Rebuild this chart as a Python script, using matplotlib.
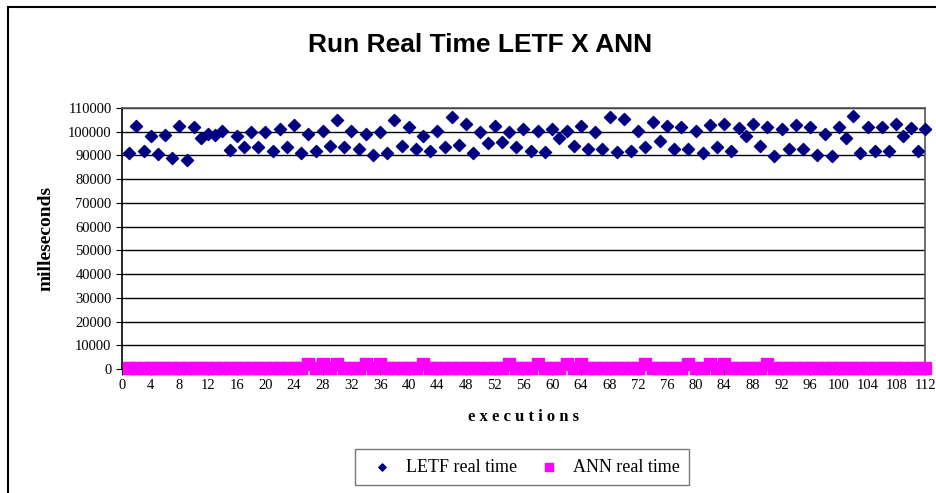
import numpy as np
import matplotlib
matplotlib.use('Agg')
import matplotlib.pyplot as plt
from matplotlib.patches import Rectangle

# LETF real time (ms), executions 1..112
letf = [91000, 102500, 91700, 98000, 90700, 98700, 88900, 102500, 88200, 102000,
        97300, 99000, 98700, 100500, 92400, 98000, 93500, 99900, 93400, 99900,
        91700, 101100, 93400, 102700, 91000, 99000, 91700, 100500, 93800, 104800,
        93400, 100400, 92700, 99000, 90300, 99900, 91000, 104800, 93800, 102200,
        92700, 98000, 91700, 100500, 93400, 106000, 94500, 103200, 91000, 99900,
        95200, 102500, 95500, 99900, 93400, 101300, 91700, 100400, 91300, 101300,
        97300, 100500, 94100, 102500, 92700, 99700, 92700, 106200, 91300, 105500,
        91700, 100400, 93500, 103900, 96200, 102500, 92700, 102000, 92700, 100500,
        91000, 102700, 93500, 103200, 91700, 101500, 98400, 103400, 93800, 102000,
        89600, 101100, 92700, 102700, 92700, 102000, 90300, 99000, 89600, 102000,
        97300, 106800, 91000, 102000, 91700, 102000, 91700, 103200, 98400, 101500,
        91700, 101100]
executions = list(range(1, 113))

# ANN real time (ms): small values, a few slightly higher runs
ann_high = [26, 28, 30, 34, 36, 42, 54, 58, 62, 64, 73, 79, 82, 84, 90]
ann = [2000 if e in ann_high else 600 for e in executions]

fig = plt.figure(figsize=(9.37, 4.93), dpi=100)
fig.patches.append(Rectangle((8/937, -0.1), 1.2, (493-7)/493 + 0.1, transform=fig.transFigure,
                             fill=False, edgecolor='black', linewidth=1.5))

ax = fig.add_axes([122/937, 124/493, 803/937, 261/493])
ax.scatter(executions, letf, marker='D', s=38, color='#000080', label='LETF real time',
           zorder=3, clip_on=False)
ax.scatter(executions, ann, marker='s', s=80, color='#FF00FF', label='ANN real time',
           zorder=3, clip_on=False)

ax.set_xlim(0, 112)
ax.set_ylim(0, 110000)
ax.set_xticks(range(0, 113, 4))
ax.set_yticks(range(0, 110001, 10000))
ax.yaxis.grid(True, color='black', linewidth=1)
ax.set_axisbelow(True)
for s in ax.spines.values():
    s.set_color('#555555')
    s.set_linewidth(1.2)
ax.spines['left'].set_color('black')
ax.spines['bottom'].set_color('black')

serif = ['Liberation Serif', 'DejaVu Serif']
ax.tick_params(axis='both', direction='out', length=4, labelsize=10.5, colors='black')
for lab in ax.get_xticklabels() + ax.get_yticklabels():
    lab.set_family(serif)

ax.set_xlabel('e x e c u t i o n s', fontsize=12, fontweight='bold', family=serif, labelpad=12)
ax.set_ylabel('milleseconds', fontsize=14, fontweight='bold', family=serif, labelpad=10)

fig.text(480/937, 1 - 45/493, 'Run Real Time LETF X ANN', ha='center', va='center',
         fontsize=19, fontweight='bold', family=['Liberation Sans', 'DejaVu Sans'])

leg = fig.legend(loc='center', bbox_to_anchor=(522/937, 1 - 467/493), ncol=2,
                 frameon=True, fancybox=False, edgecolor='#555555', handletextpad=0.3,
                 columnspacing=0.8, borderpad=0.5, markerscale=0.6,
                 prop={'family': serif, 'size': 13})
leg.get_frame().set_linewidth(1.0)

fig.savefig('out.png', dpi=100)
